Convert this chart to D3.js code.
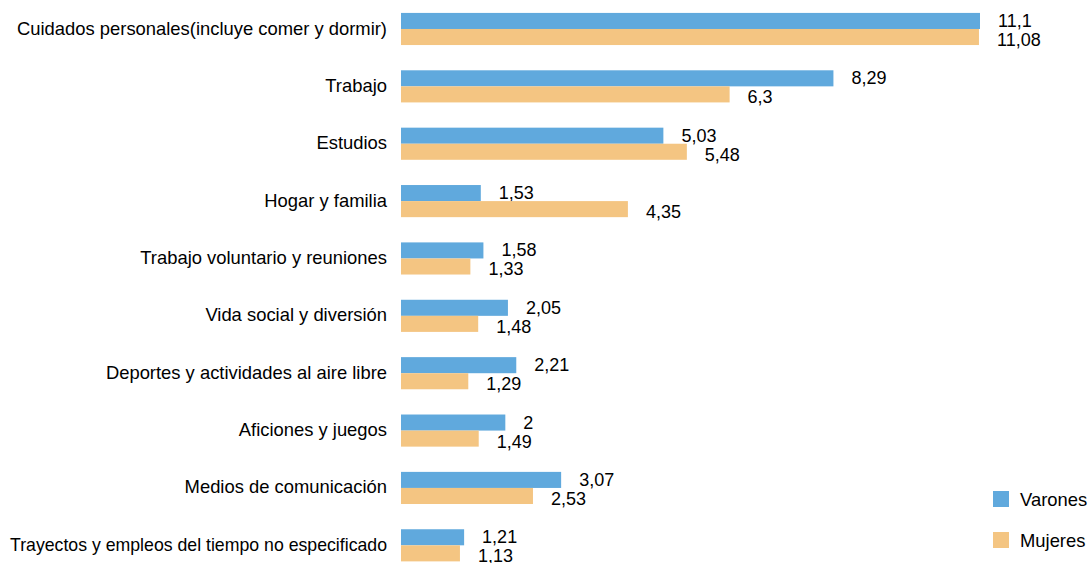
<!DOCTYPE html>
<html><head><meta charset="utf-8">
<script src="https://cdn.jsdelivr.net/npm/d3@7"></script>
<style>body{margin:0;background:#fff}svg{display:block}</style>
</head><body>
<svg id="c" width="1092" height="563"></svg>
<script>
const categories = [
  "Cuidados personales(incluye comer y dormir)",
  "Trabajo",
  "Estudios",
  "Hogar y familia",
  "Trabajo voluntario y reuniones",
  "Vida social y diversión",
  "Deportes y actividades al aire libre",
  "Aficiones y juegos",
  "Medios de comunicación",
  "Trayectos y empleos del tiempo no especificado"
];
const varones = [11.1, 8.29, 5.03, 1.53, 1.58, 2.05, 2.21, 2, 3.07, 1.21];
const mujeres = [11.08, 6.3, 5.48, 4.35, 1.33, 1.48, 1.29, 1.49, 2.53, 1.13];
const seriesNames = ["Varones", "Mujeres"];
const colors = ["#60a9dd", "#f4c582"];

const svg = d3.select("#c");
const font = "'Liberation Sans', Arial, sans-serif";
const x = d3.scaleLinear().domain([0, 11.1]).range([401, 980]);
const y = d3.scaleBand().domain(categories).range([0.3, 574]).paddingInner(0.44).paddingOuter(0.22);
const sub = d3.scaleBand().domain(seriesNames).range([0, y.bandwidth()]);
const fmt = v => String(v).replace(".", ",");

const rows = svg.selectAll("g.row").data(categories).join("g")
  .attr("transform", d => `translate(0,${y(d)})`);

const series = [varones, mujeres];
seriesNames.forEach((s, si) => {
  rows.append("rect")
    .attr("x", x(0))
    .attr("y", sub(s))
    .attr("width", (d, i) => x(series[si][i]) - x(0))
    .attr("height", sub.bandwidth())
    .attr("fill", colors[si]);
  rows.append("text")
    .attr("x", (d, i) => x(series[si][i]) + 18)
    .attr("y", sub(s) + sub.bandwidth() / 2 + (si === 0 ? 6 : 9))
    .attr("font-family", font).attr("font-size", 18).attr("fill", "#000")
    .text((d, i) => fmt(series[si][i]));
});

const ax = d3.axisLeft(y).tickSize(0).tickPadding(14);
const axG = svg.append("g").attr("transform", `translate(${x(0)},0)`).call(ax);
axG.select(".domain").remove();
axG.selectAll("text").attr("font-family", font).attr("font-size", 18.4).attr("fill", "#000")
  .attr("dy", "0.3em")
  .each(function() {
    const maxW = 377;
    if (this.getComputedTextLength() > maxW) {
      d3.select(this).attr("textLength", maxW).attr("lengthAdjust", "spacingAndGlyphs");
    }
  });

const leg = svg.append("g").selectAll("g").data(seriesNames).join("g")
  .attr("transform", (d, i) => `translate(993,${491 + i * 41})`);
leg.append("rect").attr("width", 16).attr("height", 16).attr("fill", (d, i) => colors[i]);
leg.append("text").attr("x", 27).attr("y", 15).attr("font-family", font).attr("font-size", 18.4)
  .attr("fill", "#000").text(d => d);
</script>
</body></html>
